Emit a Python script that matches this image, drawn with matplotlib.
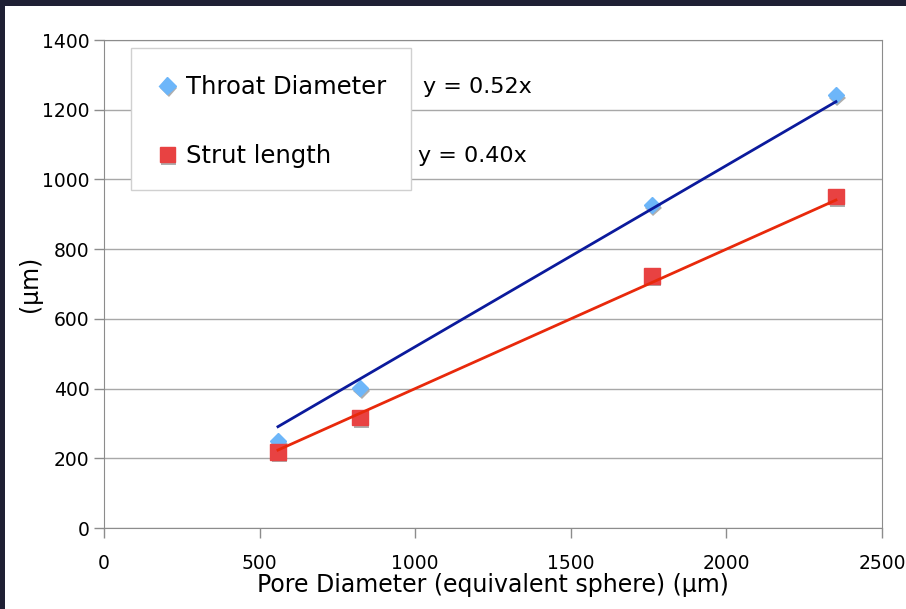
import numpy as np
import matplotlib.pyplot as plt
import matplotlib.patheffects as pe
from matplotlib.patches import Rectangle

# data
pore_diam = [559, 823, 1761, 2352]
throat_diam = [250, 402, 927, 1242]
strut_len = [218, 318, 723, 950]
throat_slope = 0.52
strut_slope = 0.40
x_ticks = [0, 500, 1000, 1500, 2000, 2500]
y_ticks = [0, 200, 400, 600, 800, 1000, 1200, 1400]

W, H = 906, 609
fig = plt.figure(figsize=(W / 100, H / 100), dpi=100)
fig.patch.set_facecolor('#1f2034')
# white slide area
fig.patches.append(Rectangle((5 / W, 0), 1, 1 - 6 / H, transform=fig.transFigure,
                             facecolor='white', edgecolor='none', zorder=-5))

ax = fig.add_axes([104 / W, 1 - 528 / H, 778 / W, 488 / H])
ax.set_xlim(0, 2500)
ax.set_ylim(0, 1400)
ax.set_xticks(x_ticks)
ax.set_yticks(y_ticks)
ax.grid(axis='y', color='#a8a8a8', lw=1)
ax.set_axisbelow(True)
for s in ax.spines.values():
    s.set_color('#8c8c8c')
ax.tick_params(colors='#8c8c8c', labelcolor='black', labelsize=13.5, length=7, width=1)
ax.tick_params(axis='x', pad=12)

shadow = [pe.SimplePatchShadow(offset=(1, -2), shadow_rgbFace='#9a9a9a', alpha=0.8), pe.Normal()]

xs = np.array([pore_diam[0], pore_diam[-1]])
ax.plot(xs, throat_slope * xs, color='#0b1a9c', lw=2, zorder=4)
ax.plot(xs, strut_slope * xs, color='#e8290b', lw=2, zorder=4)

ax.plot(pore_diam, throat_diam, ls='none', marker='D', ms=8.5, color='#6db6f9',
        path_effects=shadow, zorder=3, label='Throat Diameter')
ax.plot(pore_diam, strut_len, ls='none', marker='s', ms=11, color='#e84242',
        path_effects=shadow, zorder=3, label='Strut length')

# legend box
ax.add_patch(Rectangle((131 / W, 1 - 190 / H), 280 / W, 142 / H, transform=fig.transFigure,
                       facecolor='white', edgecolor='#d0d0d0', lw=1, zorder=2.5))
leg = ax.legend(loc='center left', bbox_to_anchor=(160 / W, 1 - 121.5 / H),
                bbox_transform=fig.transFigure, fontsize=17.5, frameon=False,
                borderpad=0, labelspacing=1.84, handlelength=0.6, handletextpad=0.45,
                borderaxespad=0)

ax.annotate('y = 0.52x', xy=(423 / W, 1 - 87 / H), xycoords='figure fraction',
            fontsize=16, va='center', ha='left')
ax.annotate('y = 0.40x', xy=(418 / W, 1 - 156 / H), xycoords='figure fraction',
            fontsize=16, va='center', ha='left')

ax.set_xlabel('Pore Diameter (equivalent sphere) (µm)', fontsize=17, labelpad=0)
ax.set_ylabel('(µm)', fontsize=17, labelpad=0)

fig.savefig('out.png', dpi=100, facecolor=fig.get_facecolor())
